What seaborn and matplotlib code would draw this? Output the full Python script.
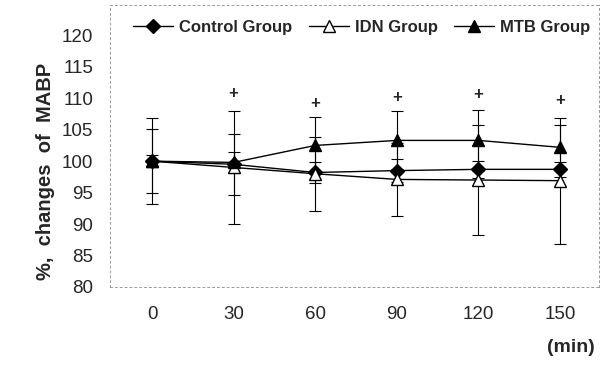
import numpy as np
import pandas as pd
import matplotlib
matplotlib.use("Agg")
import matplotlib.pyplot as plt
import seaborn as sns

times = [0, 30, 60, 90, 120, 150]
control_mean = [100, 99.5, 98.2, 98.5, 98.7, 98.7]
control_sd = [5.1, 4.8, 1.6, 1.8, 1.3, 1.2]
idn_mean = [100, 99.0, 98.0, 97.1, 97.0, 96.9]
idn_sd = [6.8, 9.0, 5.9, 5.8, 8.7, 10.0]
mtb_mean = [100, 99.8, 102.5, 103.3, 103.3, 102.2]
mtb_sd = [1.0, 1.7, 4.5, 4.6, 4.8, 3.6]
plus_times = [30, 60, 90, 120, 150]
plus_y = [110.8, 109.2, 110.1, 110.6, 109.7]

sns.set_style("white")
plt.rcParams["font.family"] = ["Liberation Sans", "DejaVu Sans"]

fig = plt.figure(figsize=(6.05, 3.67), dpi=100)
ax = fig.add_axes([0.182, 0.218, 0.808, 0.768])

groups = [
    ("Control Group", control_mean, control_sd, dict(marker="D", markersize=7, markerfacecolor="black")),
    ("IDN Group", idn_mean, idn_sd, dict(marker="^", markersize=9, markerfacecolor="white")),
    ("MTB Group", mtb_mean, mtb_sd, dict(marker="^", markersize=9, markerfacecolor="black")),
]

for name, mean, sd, mk in groups:
    ax.errorbar(times, mean, yerr=sd, fmt="none", ecolor="black", elinewidth=0.8,
                capsize=4, capthick=0.8, zorder=2)
for name, mean, sd, mk in groups:
    df = pd.DataFrame({"time": times, "value": mean})
    sns.lineplot(data=df, x="time", y="value", ax=ax, color="black", linewidth=1.0,
                 markeredgecolor="black", markeredgewidth=1.0, label=name, zorder=3, **mk)

for t, y in zip(plus_times, plus_y):
    ax.text(t, y, "+", ha="center", va="center", fontsize=12, fontweight="bold")

ax.set_xlim(-15.4, 164.3)
ax.set_ylim(80, 124.8)
ax.set_xticks(times)
ax.set_yticks(range(80, 121, 5))
ax.tick_params(axis="both", length=0, labelsize=13.5)
ax.tick_params(axis="y", pad=12)
ax.tick_params(axis="x", pad=14)
ax.set_xlabel("")
ax.set_ylabel("%,  changes  of  MABP", fontsize=14.5, fontweight="bold")
ax.yaxis.set_label_coords(-0.133, 0.41)
ax.yaxis.label.set_va("center")

for s in ax.spines.values():
    s.set_visible(True)
    s.set_color("#9a9a9a")
    s.set_linewidth(0.7)
    s.set_linestyle((0, (2, 3)))

leg = ax.legend(loc="upper center", bbox_to_anchor=(0.515, 1.0), ncol=3, frameon=False,
                handlelength=2.4, handletextpad=0.35, columnspacing=1.0,
                prop={"weight": "bold", "size": 12})

fig.text(595 / 605, 1 - 347 / 367, "(min)", ha="right", va="center", fontsize=14, fontweight="bold")

fig.savefig("out.png", dpi=100)
